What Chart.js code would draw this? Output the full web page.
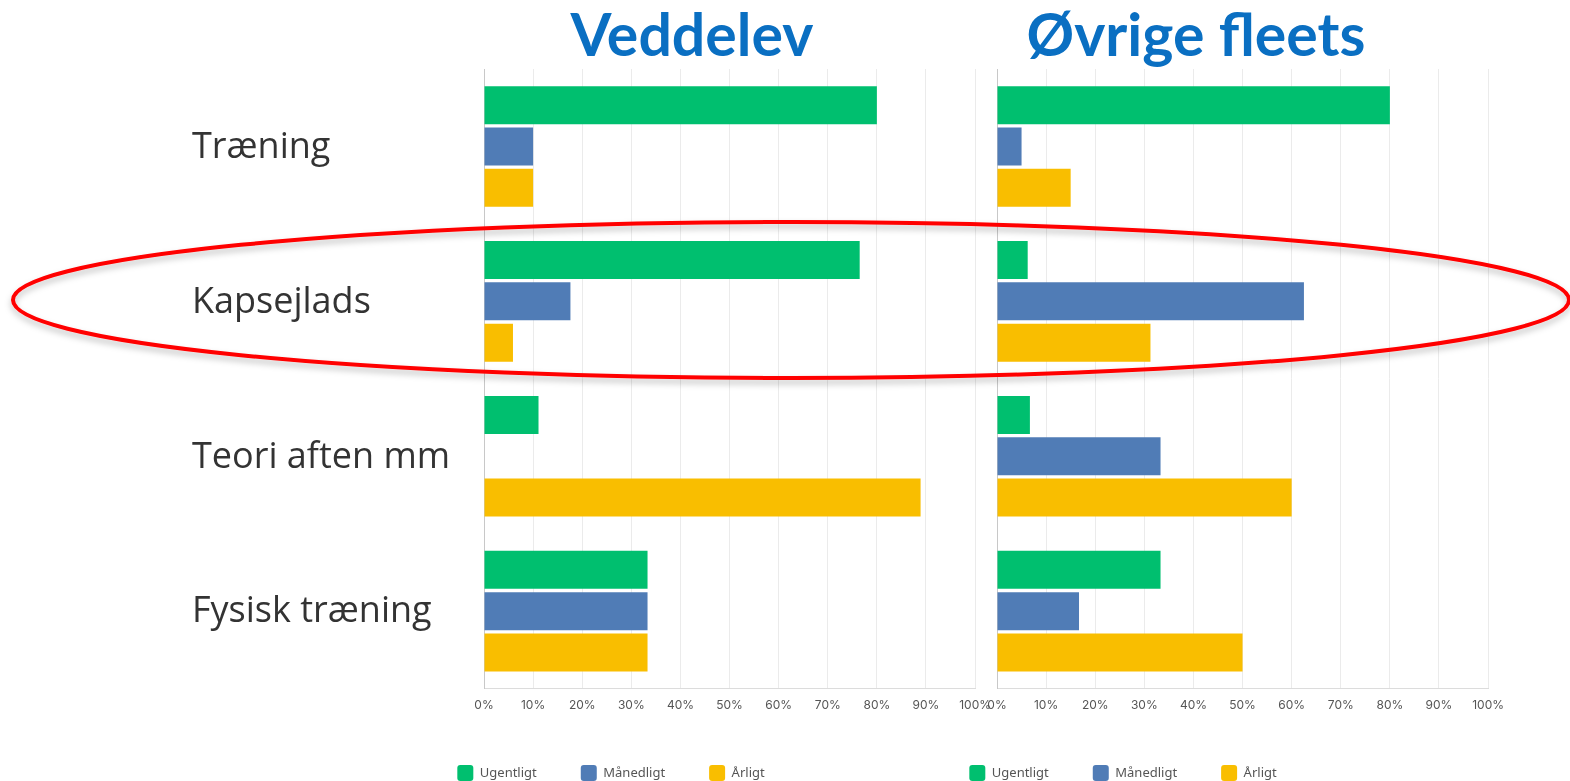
<!DOCTYPE html>
<html>
<head>
<meta charset="utf-8">
<script src="https://cdn.jsdelivr.net/npm/chart.js@4.4.1/dist/chart.umd.min.js"></script>
<style>
  body { margin: 0; width: 1570px; height: 781px; overflow: hidden; background: #fff; position: relative; }
  .box { position: absolute; top: 60px; height: 731px; }
  .title { position: absolute; top: 4px; font: bold 59px Lato, sans-serif; line-height: 1; color: #0a6fc2; transform: translateX(-50%); white-space: nowrap; }
  svg { position: absolute; left: 0; top: 0; pointer-events: none; }
</style>
</head>
<body>
<div class="title" style="left:692px">Veddelev</div>
<div class="title" style="left:1196px">Øvrige fleets</div>
<div class="box" style="left:732px;width:782px"><canvas id="right"></canvas></div>
<div class="box" style="left:0;width:1001px"><canvas id="left"></canvas></div>
<svg width="1570" height="781">
  <defs>
    <filter id="sh" x="-5%" y="-20%" width="110%" height="140%">
      <feDropShadow dx="0" dy="4" stdDeviation="3" flood-color="#000" flood-opacity="0.25"/>
    </filter>
  </defs>
  <ellipse cx="791" cy="300" rx="778" ry="78" fill="none" stroke="#ff0000" stroke-width="4" filter="url(#sh)"/>
</svg>
<script>
const categories = ['Træning', 'Kapsejlads', 'Teori aften mm', 'Fysisk træning'];
const seriesNames = ['Ugentligt', 'Månedligt', 'Årligt'];
const seriesColors = ['#00bf6f', '#507cb6', '#f9be00'];

// Veddelev, percent
const veddelevUgentligt = [80, 76.5, 11.1, 33.3];
const veddelevMaanedligt = [10, 17.6, 0, 33.3];
const veddelevAarligt = [10, 5.9, 88.9, 33.3];

// Øvrige fleets, percent
const oevrigeUgentligt = [80, 6.25, 6.7, 33.3];
const oevrigeMaanedligt = [5, 62.5, 33.3, 16.7];
const oevrigeAarligt = [15, 31.25, 60, 50];

const tickValues = [0, 10, 20, 30, 40, 50, 60, 70, 80, 90, 100];

// big category text to the left of the first chart, placed on the y scale
const categoryText = {
  id: 'categoryText',
  afterDraw(chart, args, opts) {
    if (!opts.show) return;
    const ctx = chart.ctx;
    const y = chart.scales.y;
    ctx.save();
    ctx.font = '36px "Open Sans"';
    ctx.fillStyle = '#333';
    ctx.textBaseline = 'middle';
    categories.forEach((c, i) => ctx.fillText(c, 192, y.getPixelForValue(i) + 1));
    ctx.restore();
  }
};

function makeChart(id, values, yWidth, pad, showText) {
  new Chart(document.getElementById(id), {
    type: 'bar',
    data: {
      labels: categories,
      datasets: seriesNames.map((name, i) => ({
        label: name,
        data: values[i],
        backgroundColor: seriesColors[i],
        borderWidth: 0,
        categoryPercentage: 0.8,
        barPercentage: 0.92
      }))
    },
    options: {
      indexAxis: 'y',
      responsive: true,
      maintainAspectRatio: false,
      animation: false,
      layout: { padding: pad },
      scales: {
        x: {
          min: 0,
          max: 100,
          afterBuildTicks: (s) => { s.ticks = tickValues.map(v => ({ value: v })); },
          afterFit: (s) => { s.height -= 2; },
          ticks: {
            padding: 10,
            color: '#555',
            font: { family: 'Inter', size: 12 },
            callback: (v) => v + '%'
          },
          grid: { color: '#ebebeb', drawTicks: false },
          border: { display: true, color: '#dcdcdc' }
        },
        y: {
          afterFit: (s) => { s.width = yWidth; },
          ticks: { display: false },
          grid: { display: false },
          border: { display: true, color: '#c8c8c8' }
        }
      },
      plugins: {
        categoryText: { show: showText },
        tooltip: { enabled: false },
        legend: {
          position: 'bottom',
          labels: {
            boxWidth: 16,
            boxHeight: 16,
            useBorderRadius: true,
            borderRadius: 3,
            padding: 44,
            color: '#555',
            font: { family: 'Noto Sans', size: 13 }
          }
        }
      }
    },
    plugins: [categoryText]
  });
}

makeChart('left', [veddelevUgentligt, veddelevMaanedligt, veddelevAarligt], 263, { left: 221, right: 0, top: 9, bottom: 0 }, true);
makeChart('right', [oevrigeUgentligt, oevrigeMaanedligt, oevrigeAarligt], 265, { left: 0, right: 0, top: 9, bottom: 0 }, false);
</script>
</body>
</html>
